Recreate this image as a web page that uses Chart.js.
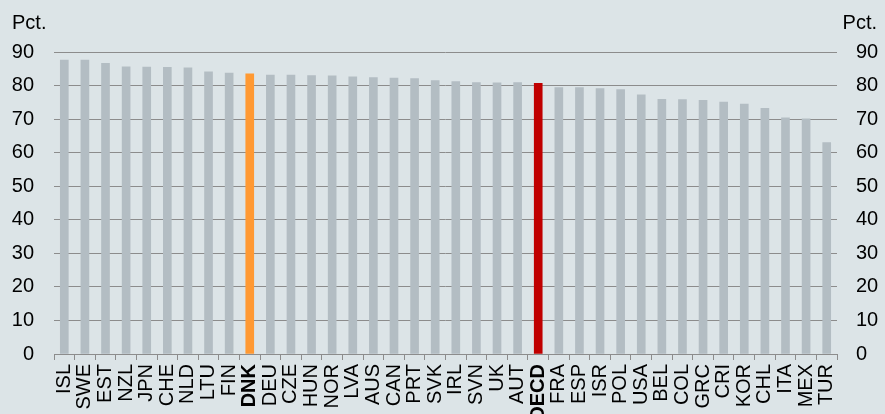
<!DOCTYPE html>
<html>
<head>
<meta charset="utf-8">
<script src="https://cdn.jsdelivr.net/npm/chart.js@4/dist/chart.umd.min.js"></script>
<style>
  html, body { margin: 0; padding: 0; background: #dce4e7; }
  #wrap { width: 885px; height: 414px; }
</style>
</head>
<body>
<div id="wrap"><canvas id="chart" width="885" height="414"></canvas></div>
<script>
const countries = ['ISL', 'SWE', 'EST', 'NZL', 'JPN', 'CHE', 'NLD', 'LTU', 'FIN', 'DNK',
    'DEU', 'CZE', 'HUN', 'NOR', 'LVA', 'AUS', 'CAN', 'PRT', 'SVK', 'IRL', 'SVN', 'UK',
    'AUT', 'OECD', 'FRA', 'ESP', 'ISR', 'POL', 'USA', 'BEL', 'COL', 'GRC', 'CRI', 'KOR',
    'CHL', 'ITA', 'MEX', 'TUR'];
const values = [87.6, 87.6, 86.6, 85.6, 85.5, 85.4, 85.3, 84.1, 83.7, 83.5,
    83.1, 83.1, 83.0, 82.9, 82.6, 82.4, 82.2, 82.1, 81.5, 81.2, 80.9, 80.8,
    80.9, 80.7, 79.4, 79.4, 79.1, 78.8, 77.2, 75.9, 75.8, 75.6, 75.1, 74.5,
    73.2, 70.4, 70.1, 63.0];
const yTicks = [0, 10, 20, 30, 40, 50, 60, 70, 80, 90];
const unitLabel = 'Pct.';
const highlight = { DNK: '#ff9933', OECD: '#c00000' };

const barGray = '#b3bdc3';
const gridGray = '#8c8c8c';
const fontFamily = '"Liberation Sans", Arial, sans-serif';
const fontSize = 20;

// the "Pct." labels above both axes
const unitPlugin = {
    id: 'unitLabels',
    afterDraw(chart) {
        const c = chart.ctx;
        c.save();
        c.font = fontSize + 'px ' + fontFamily;
        c.fillStyle = '#000';
        c.textBaseline = 'alphabetic';
        c.textAlign = 'left';
        c.fillText(unitLabel, 12, 29);
        c.textAlign = 'right';
        c.fillText(unitLabel, 877, 29);
        c.restore();
    }
};

new Chart(document.getElementById('chart'), {
    type: 'bar',
    data: {
        labels: countries,
        datasets: [{
            data: values,
            backgroundColor: countries.map(c => highlight[c] || barGray),
            barThickness: 8,
            borderWidth: 0
        }]
    },
    options: {
        responsive: false,
        animation: false,
        layout: { padding: { top: 52, left: 0, right: 0, bottom: 0 } },
        plugins: {
            legend: { display: false },
            tooltip: { enabled: false }
        },
        scales: {
            x: {
                grid: {
                    display: true,
                    drawOnChartArea: false,
                    drawTicks: true,
                    tickLength: 6,
                    color: gridGray,
                    offset: true
                },
                border: { display: true, color: gridGray },
                ticks: {
                    autoSkip: false,
                    maxRotation: 90,
                    minRotation: 90,
                    padding: 4,
                    color: '#000',
                    font: (ctx) => ({
                        family: fontFamily,
                        size: fontSize,
                        weight: highlight[countries[ctx.index]] ? 'bold' : 'normal'
                    })
                },
                afterFit(scale) { scale.height = 60; }
            },
            y: {
                position: 'left',
                min: 0,
                max: 90,
                afterBuildTicks(scale) { scale.ticks = yTicks.map(v => ({ value: v })); },
                grid: { color: gridGray, drawTicks: false },
                border: { display: false },
                ticks: {
                    padding: 20,
                    color: '#000',
                    font: { family: fontFamily, size: fontSize }
                },
                afterFit(scale) { scale.width = 54; }
            },
            y2: {
                position: 'right',
                min: 0,
                max: 90,
                afterBuildTicks(scale) { scale.ticks = yTicks.map(v => ({ value: v })); },
                grid: { drawOnChartArea: false, drawTicks: false },
                border: { display: false },
                ticks: {
                    padding: 19,
                    color: '#000',
                    font: { family: fontFamily, size: fontSize }
                },
                afterFit(scale) { scale.width = 48; }
            }
        }
    },
    plugins: [unitPlugin]
});
</script>
</body>
</html>
